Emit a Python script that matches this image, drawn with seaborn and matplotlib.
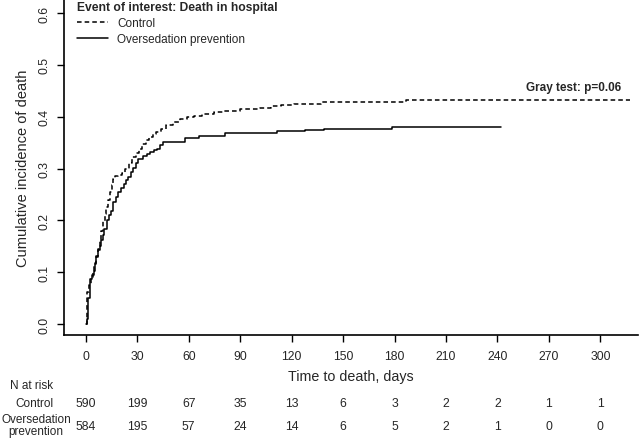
import numpy as np
import pandas as pd
import matplotlib
matplotlib.use('Agg')
import matplotlib.pyplot as plt
import matplotlib.transforms as mtransforms
import seaborn as sns

# Cumulative incidence (step functions)
control_days = [0, 0.5, 1, 2, 3, 4, 5, 6, 7, 8, 9, 10, 11, 12, 13, 14, 15, 16, 17, 19, 21,
                23, 25, 27, 29, 31, 33, 35, 37, 39, 41, 44, 47, 51, 55, 59, 63, 68, 74.6,
                80, 90, 101.8, 107.7, 114, 121.3, 136.9, 186.5, 317]
control_inc = [0.0, 0.02, 0.061, 0.075, 0.088, 0.1, 0.115, 0.13, 0.145, 0.16, 0.18, 0.198,
               0.212, 0.225, 0.24, 0.255, 0.268, 0.28, 0.286, 0.288, 0.292, 0.3, 0.31,
               0.322, 0.33, 0.338, 0.347, 0.355, 0.36, 0.366, 0.371, 0.377, 0.384, 0.39,
               0.396, 0.399, 0.402, 0.405, 0.409, 0.411, 0.414, 0.416, 0.42, 0.422, 0.425,
               0.429, 0.432, 0.432]

overs_days = [0, 0.8, 1.2, 2.5, 3.5, 4.5, 5.2, 5.8, 7, 8, 9, 10, 10.9, 12.3, 13.5, 14.6,
              16.1, 17.5, 19, 20.5, 22, 23.5, 24.9, 26.3, 27.8, 29.3, 30.7, 33.6, 35.5,
              37.6, 39.5, 41.5, 43.5, 45.3, 58, 65.8, 81.4, 111.5, 128, 138.8, 178.7, 242]
overs_inc = [0.0, 0.01, 0.05, 0.087, 0.095, 0.103, 0.118, 0.132, 0.142, 0.151, 0.162, 0.172,
             0.183, 0.2, 0.21, 0.219, 0.235, 0.245, 0.254, 0.262, 0.27, 0.277, 0.283, 0.293,
             0.302, 0.31, 0.318, 0.325, 0.328, 0.331, 0.335, 0.338, 0.345, 0.352, 0.358,
             0.362, 0.369, 0.373, 0.3745, 0.376, 0.38, 0.38]

risk_times = [0, 30, 60, 90, 120, 150, 180, 210, 240, 270, 300]
risk_control = [590, 199, 67, 35, 13, 6, 3, 2, 2, 1, 1]
risk_overs = [584, 195, 57, 24, 14, 6, 5, 2, 1, 0, 0]

df = pd.concat([
    pd.DataFrame({'day': control_days, 'inc': control_inc, 'group': 'Control'}),
    pd.DataFrame({'day': overs_days, 'inc': overs_inc, 'group': 'Oversedation prevention'}),
])

sns.set_style('ticks')
plt.rcParams['font.family'] = ['Liberation Sans', 'DejaVu Sans']

fig = plt.figure(figsize=(6.4, 4.39), dpi=100)
ax = fig.add_axes([0.1, 0.2346, 0.897, 0.7654])

sns.lineplot(data=df[df['group'] == 'Control'], x='day', y='inc', ax=ax,
             color='black', lw=1.1, drawstyle='steps-post', linestyle=(0, (3, 2)),
             label='Control')
sns.lineplot(data=df[df['group'] != 'Control'], x='day', y='inc', ax=ax,
             color='black', lw=1.1, drawstyle='steps-post',
             label='Oversedation prevention')

ax.set_xlim(-12.7, 322)
ax.set_ylim(-0.021, 0.627)
ax.set_xticks(risk_times)
ax.set_yticks([0.0, 0.1, 0.2, 0.3, 0.4, 0.5, 0.6])
ax.set_yticklabels(['0.0', '0.1', '0.2', '0.3', '0.4', '0.5', '0.6'], rotation=90, va='center')
ax.tick_params(axis='x', length=5, width=1, labelsize=8.8, pad=6, color='black')
ax.tick_params(axis='y', length=5, width=1, labelsize=8.8, pad=5, color='black')
sns.despine(ax=ax)
for s in ['left', 'bottom']:
    ax.spines[s].set_linewidth(1.2)
    ax.spines[s].set_color('black')

ax.set_xlabel('Time to death, days', fontsize=10.3, labelpad=5)
ax.set_ylabel('Cumulative incidence of death', fontsize=10.5, labelpad=6)

leg = ax.legend(title='Event of interest: Death in hospital', loc='upper left',
                bbox_to_anchor=(0.004, 1.026), frameon=False, fontsize=8.5,
                title_fontproperties={'weight': 'bold', 'size': 8.7},
                handlelength=2.6, handletextpad=0.8, labelspacing=0.35)
leg._legend_box.align = 'left'

ax.text(312, 0.445, 'Gray test: p=0.06', ha='right', va='bottom', fontsize=8.5,
        fontweight='bold')

# Number at risk table
trans = mtransforms.blended_transform_factory(ax.transData, fig.transFigure)
fig.text(32 / 640, 1 - 386 / 439, 'N at risk', ha='center', va='center', fontsize=8.5)
fig.text(34 / 640, 1 - 404 / 439, 'Control', ha='center', va='center', fontsize=8.5)
fig.text(36 / 640, 1 - 426 / 439, 'Oversedation\nprevention', ha='center', va='center',
         fontsize=8.5, linespacing=0.95)
for t, c, o in zip(risk_times, risk_control, risk_overs):
    ax.text(t, 1 - 404 / 439, str(c), transform=trans, ha='center', va='center', fontsize=8.8)
    ax.text(t, 1 - 427 / 439, str(o), transform=trans, ha='center', va='center', fontsize=8.8)

fig.savefig('out.png', dpi=100)
